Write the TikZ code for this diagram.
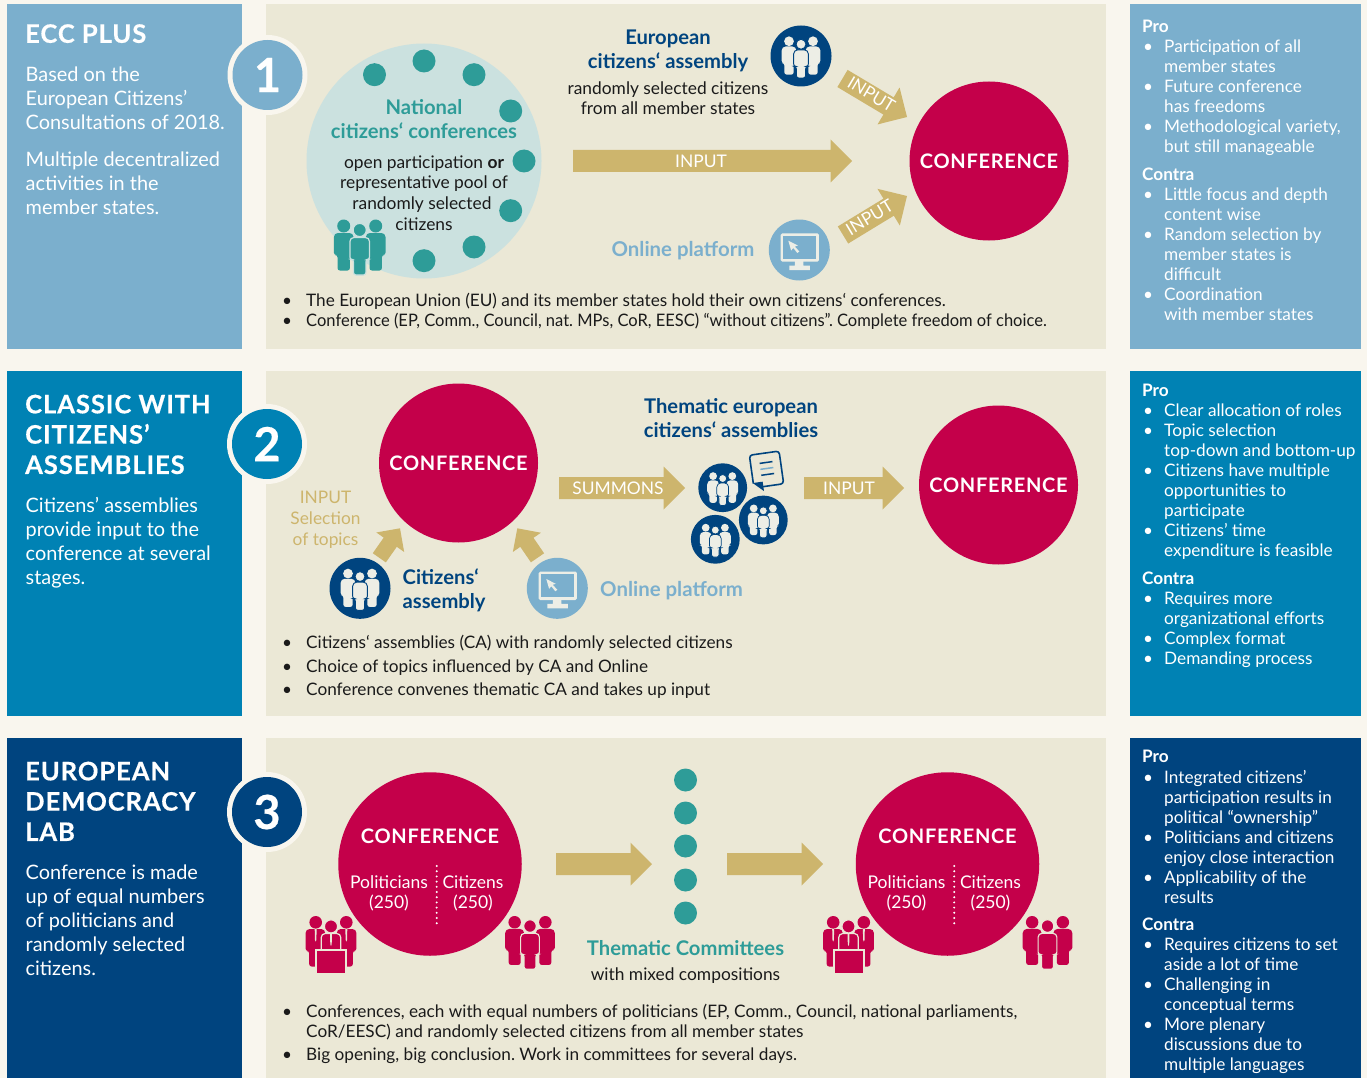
\documentclass[tikz,border=0pt]{standalone}
\usepackage{fontspec}
\usetikzlibrary{calc}
\setmainfont{Lato}
\newfontfamily\titlef[LetterSpace=3.8,FakeBold=0.5]{Lato Bold}
\newfontfamily\conff[LetterSpace=3.5]{Lato Bold}
\newfontfamily\numf[FakeBold=0.4]{Lato Bold}
\frenchspacing
\definecolor{page}{HTML}{F9F6EE}
\definecolor{beige}{HTML}{EBE8D6}
\definecolor{skyb}{HTML}{7BAFCD}
\definecolor{midb}{HTML}{0082B4}
\definecolor{navy}{HTML}{00447F}
\definecolor{crim}{HTML}{C4004A}
\definecolor{gold}{HTML}{CDB56D}
\definecolor{teal2}{HTML}{2E9C98}
\definecolor{lteal}{HTML}{CBE1DF}
\definecolor{ink}{HTML}{1A1A1A}
\definecolor{pale}{HTML}{EDEEE6}
\newcommand{\fs}[2]{\fontsize{#1}{#2}\selectfont}
\tikzset{
  titletxt/.style={text=white,anchor=north west,align=left,inner sep=0pt,font=\fs{25.5}{30.3}\titlef},
  leadtxt/.style={text=white,anchor=north west,align=left,inner sep=0pt,font=\fs{19.9}{24}},
  listtxt/.style={text=white,anchor=north west,align=left,inner sep=0pt,font=\fs{17.2}{20}},
  bodytxt/.style={text=ink,anchor=north west,align=left,inner sep=0pt,font=\fs{17.2}{20}},
  mid/.style={text=ink,align=center,inner sep=0pt,font=\fs{17.35}{20.6}},
  head/.style={align=center,inner sep=0pt,font=\fs{20.2}{24}\bfseries},
  onl/.style={inner sep=0pt,font=\fs{20.4}{24}\bfseries,text=skyb},
  conf/.style={circle,fill=crim,text=white,inner sep=0pt,minimum size=159pt,font=\fs{20}{24}\conff},
  confb/.style={conf,minimum size=183.5pt},
  dot/.style={circle,fill=teal2,inner sep=0pt,minimum size=23pt},
  numring/.style={circle,fill=page,inner sep=0pt,minimum size=80pt},
  num/.style={circle,inner sep=0pt,minimum size=70pt,text=white,font=\fs{47}{47}\numf},
  ico/.style={circle,inner sep=0pt,minimum size=61pt},
  arrowlab/.style={text=white,inner sep=0pt,font=\fs{17.4}{20}},
  blockfill/.style={fill=gold,draw=none},
}
% \blockarrow{half shaft}{half head}{tail}{tip}
\newcommand{\blockarrow}[4]{%
  \path coordinate (ba) at ($(#4)!#2!(#3)$);
  \path[blockfill] ($(#3)!#1!90:(#4)$) -- ($(ba)!#1!90:(#4)$) -- ($(ba)!#2!90:(#4)$) -- (#4)
    -- ($(ba)!#2!-90:(#4)$) -- ($(ba)!#1!-90:(#4)$) -- ($(#3)!#1!-90:(#4)$) -- cycle;
}
\newcommand{\bodyshape}[3]{% x, y top, options
  \path[#3,rounded corners=4pt] (#1-9.8,#2) -- (#1+9.8,#2) [rounded corners=2.4pt] -- (#1+9.8,#2+22) -- (#1+6.2,#2+22)
    -- (#1+6.2,#2+37.5) -- (#1-6.2,#2+37.5) -- (#1-6.2,#2+22) -- (#1-9.8,#2+22) [rounded corners=4pt] -- cycle;
}
\newcommand{\people}[4]{\begin{scope}[shift={(#1,#2)},scale=#3]
  \fill[#4] (-16,-21) circle (6.5) (16,-21) circle (6.5);
  \bodyshape{-16}{-14}{fill=#4}
  \bodyshape{16}{-14}{fill=#4}
  \fill[#4,draw=\peoplebg,line width=#3*1.2pt] (0,-17) circle (6.6);
  \bodyshape{0}{-9.5}{fill=#4,draw=\peoplebg,line width=#3*1.2pt}
\end{scope}}
\newcommand{\peoplebg}{beige}
\newcommand{\peoplecirc}[4]{% name x y scale: navy circle with pale people
  \node[ico,fill=navy,minimum size=#4*61pt/0.75] (#1) at (#2,#3) {};
  \renewcommand{\peoplebg}{navy}%
  \people{#2}{#3+1}{#4}{pale}%
}
\newcommand{\screen}[3]{% name x y
  \node[ico,fill=skyb] (#1) at (#2,#3) {};
  \begin{scope}[shift={(#2,#3)}]
    \fill[pale,rounded corners=1.5pt] (-18.6,-16.7) rectangle (19.6,11.7);
    \fill[skyb] (-16,-14) rectangle (17,8.8);
    \fill[pale] (-4.5,11) rectangle (4,16) (-10,15.5) rectangle (10.5,20);
    \fill[pale] (-11,-9.3) -- (-1.5,-4.5) -- (-4.5,-3.5) -- (0,1.5) -- (-2,3) -- (-6,-2) -- (-8.2,0.5) -- cycle;
  \end{scope}
}
\newcommand{\politicians}[2]{\begin{scope}[shift={(#1,#2)}]
  \fill[crim] (-15.3,-18.7) circle (6.3) (15.3,-18.7) circle (6.3);
  \bodyshape{-15.6}{-12}{fill=crim}
  \bodyshape{15.6}{-12}{fill=crim}
  \fill[crim,draw=beige,line width=1.2pt] (0,-14.6) circle (6.6);
  \bodyshape{0}{-7.5}{fill=crim,draw=beige,line width=1.2pt}
  \fill[beige] (-16.3,-12) -- (-14.3,-12) -- (-14.7,-1) -- (-15.3,0.5) -- (-16,-1) -- cycle;
  \fill[beige] (14.3,-12) -- (16.3,-12) -- (16,-1) -- (15.3,0.5) -- (14.7,-1) -- cycle;
  \fill[beige] (-1,-7.5) -- (1,-7.5) -- (0.7,3) -- (0,5) -- (-0.7,3) -- cycle;
  \path[fill=crim,draw=beige,line width=2pt] (-15,9) rectangle (15,33);
\end{scope}}
\begin{document}
\begin{tikzpicture}[x=1pt,y=-1pt]
\useasboundingbox (0,0) rectangle (1367,1078);
\fill[page] (0,0) rectangle (1367,1078);
% panels
\fill[skyb] (7,4) rectangle (242,349);
\fill[midb] (7,371) rectangle (242,716);
\fill[navy] (7,738) rectangle (242,1078);
\fill[beige] (266,4) rectangle (1106,349);
\fill[beige] (266,371) rectangle (1106,716);
\fill[beige] (266,738) rectangle (1106,1078);
\fill[skyb] (1130,4) rectangle (1361,349);
\fill[midb] (1130,371) rectangle (1361,716);
\fill[navy] (1130,738) rectangle (1361,1078);
% numbers
\node[numring] (r1) at (267.5,75) {};
\node[num,fill=skyb] (n1) at (267.5,75) {1};
\node[numring] (r2) at (267,444) {};
\node[num,fill=midb] (n2) at (267,444) {2};
\node[numring] (r3) at (267,812) {};
\node[num,fill=navy] (n3) at (267,812) {3};
% left texts
\node[titletxt] (t1) at (25,24) {ECC PLUS};
\node[leadtxt] (l1) at (25.5,67) {Based on the\\European Citizens’\\Consultations of 2018.};
\node[leadtxt] (l1b) at (25.5,152) {Multiple decentralized\\activities in the\\member states.};
\node[titletxt] (t2) at (25,394.5) {CLASSIC WITH\\CITIZENS’\\ASSEMBLIES};
\node[leadtxt] (l2) at (25.5,497) {Citizens’ assemblies\\provide input to the\\conference at several\\stages.};
\node[titletxt] (t3) at (25,761.5) {EUROPEAN\\DEMOCRACY\\LAB};
\node[leadtxt] (l3) at (25.5,865) {Conference is made\\up of equal numbers\\of politicians and\\randomly selected\\citizens.};
% right texts
\newcommand{\bl}{\llap{\textbullet\hspace{11pt}}}
\node[listtxt] (p1) at (1142,20) {\textbf{Pro}};
\node[listtxt] (p1l) at (1164,40) {\bl Participation of all\\member states\\\bl Future conference\\has freedoms\\\bl Methodological variety,\\but still manageable};
\node[listtxt] (c1) at (1142,168) {\textbf{Contra}};
\node[listtxt] (c1l) at (1164,188) {\bl Little focus and depth\\content wise\\\bl Random selection by\\member states is\\difficult\\\bl Coordination\\with member states};
\node[listtxt] (p2) at (1142,384) {\textbf{Pro}};
\node[listtxt] (p2l) at (1164,404) {\bl Clear allocation of roles\\\bl Topic selection\\top-down and bottom-up\\\bl Citizens have multiple\\opportunities to\\participate\\\bl Citizens’ time\\expenditure is feasible};
\node[listtxt] (c2) at (1142,572) {\textbf{Contra}};
\node[listtxt] (c2l) at (1164,592) {\bl Requires more\\organizational efforts\\\bl Complex format\\\bl Demanding process};
\node[listtxt] (p3) at (1142,750) {\textbf{Pro}};
\node[listtxt] (p3l) at (1164,770) {\bl Integrated citizens’\\participation results in\\political “ownership”\\\bl Politicians and citizens\\enjoy close interaction\\\bl Applicability of the\\results};
\node[listtxt] (c3) at (1142,918) {\textbf{Contra}};
\node[listtxt] (c3l) at (1164,938) {\bl Requires citizens to set\\aside a lot of time\\\bl Challenging in\\conceptual terms\\\bl More plenary\\discussions due to\\multiple languages};
% bottom lists
\newcommand{\bm}{\llap{\textbullet\hspace{14pt}}}
\node[bodytxt] (b1) at (306,293) {\bm The European Union (EU) and its member states hold their own citizens‘ conferences.\\\bm \scalebox{0.96}[1]{Conference (EP, Comm., Council, nat. MPs, CoR, EESC) “without citizens”. Complete freedom of choice.}};
\node[bodytxt,font=\fs{17.2}{23.5}] (b2) at (306,635) {\bm Citizens‘ assemblies (CA) with randomly selected citizens\\\bm Choice of topics influenced by CA and Online\\\bm Conference convenes thematic CA and takes up input};
\node[bodytxt] (b3) at (306,1004) {\bm Conferences, each with equal numbers of politicians (EP, Comm., Council, national parliaments,\\CoR/EESC) and randomly selected citizens from all member states};
\node[bodytxt] (b3b) at (306,1048) {\bm Big opening, big conclusion. Work in committees for several days.};
% ===== row 1
\node[circle,fill=lteal,inner sep=0pt,minimum size=235pt] (natl) at (424,161) {};
\foreach \nm/\xx/\yy in {a/374.5/74.7,b/424/61,c/474/74.7,d/510.7/111,e/524/161,f/510.7/210.7,g/474/247,h/424/260.7}
  \node[dot] (dot\nm) at (\xx,\yy) {};
\node[head,text=teal2] (natlh) at (424,119) {National\\citizens‘ conferences};
\node[mid] (natlb) at (424,193) {open participation \textbf{or}\\representative pool of\\\hspace*{-4pt}randomly selected\\citizens};
\renewcommand{\peoplebg}{lteal}
\people{359.7}{247}{1}{teal2}
\node[head,text=navy] (eah) at (668,51) {European\\citizens‘ assembly};
\node[mid,font=\fs{17.35}{20}] (eab) at (668,98) {randomly selected citizens\\from all member states};
\peoplecirc{eaico}{801}{56}{0.75}
\node[onl] (oph) at (683,251) {Online platform};
\screen{opico}{799.3}{250}
\node[conf] (conf1) at (989,161) {\raisebox{-0.5pt}{CONFERENCE}};
\coordinate (a1t) at (573,161); \coordinate (a1h) at (852,161);
\blockarrow{11pt}{21.5pt}{a1t}{a1h}
\node[arrowlab] (a1l) at (701,161) {INPUT};
\coordinate (a2t) at (842.5,78.5); \coordinate (a2h) at (907,117);
\blockarrow{10pt}{21.5pt}{a2t}{a2h}
\node[arrowlab,rotate=-31] (a2l) at (871.5,94.5) {INPUT};
\coordinate (a3t) at (843,235); \coordinate (a3h) at (907,196);
\blockarrow{10pt}{21.5pt}{a3t}{a3h}
\node[arrowlab,rotate=31] (a3l) at (869.5,217.5) {INPUT};
% ===== row 2
\node[conf] (conf2) at (458.5,463) {\raisebox{-0.5pt}{CONFERENCE}};
\node[conf] (conf3) at (998.5,485) {\raisebox{-0.5pt}{CONFERENCE}};
\node[align=center,inner sep=0pt,text=gold,font=\fs{17.3}{21}] (sel) at (325.5,519.5) {INPUT\\Selection\\of topics};
\coordinate (b1t) at (379.3,557.8); \coordinate (b1h) at (400,528.3);
\blockarrow{8pt}{17pt}{b1t}{b1h}
\coordinate (b2t) at (537.5,557.8); \coordinate (b2h) at (517.3,528.3);
\blockarrow{8pt}{17pt}{b2t}{b2h}
\peoplecirc{caico}{360}{588.3}{0.75}
\node[head,text=navy,align=left,anchor=west] (cah) at (402.5,590) {Citizens‘\\assembly};
\screen{op2ico}{557.3}{588.3}
\node[onl,anchor=west] (op2h) at (600,591) {Online platform};
\coordinate (b3t) at (559,488); \coordinate (b3h) at (685,488);
\blockarrow{11pt}{21.5pt}{b3t}{b3h}
\node[arrowlab] (b3l) at (618,488) {SUMMONS};
\coordinate (b4t) at (804,488); \coordinate (b4h) at (904,488);
\blockarrow{11pt}{21.5pt}{b4t}{b4h}
\node[arrowlab] (b4l) at (849,488) {INPUT};
\node[head,text=navy] (tah) at (731,418) {Thematic european\\citizens‘ assemblies};
\peoplecirc{ta1}{722.7}{487.7}{0.6}
\peoplecirc{ta2}{763.3}{520}{0.6}
\peoplecirc{ta3}{715.3}{539.3}{0.6}
% document
\begin{scope}[shift={(766.5,469.5)},rotate=8]
  \path[draw=navy,line width=1.6pt,rounded corners=3pt] (-6,16.5) -- (15,16.5) -- (15,-16.5) -- (-15,-16.5) -- (-15,12);
  \fill[navy] (-15.5,11.5) -- (-5.5,11.5) -- (-5.5,21) -- cycle;
  \draw[navy,line width=1.5pt] (-6,-7) -- (7,-7) (-6,5) -- (7,5);
  \draw[skyb,line width=1.5pt] (-6,-1) -- (7,-1);
\end{scope}
% ===== row 3
\node[confb] (conf4) at (430,864) {};
\node[confb] (conf5) at (947.5,864) {};
\foreach \cx/\nm in {430/l,947.5/r}{
  \node[text=white,inner sep=0pt,font=\fs{20}{24}\conff] (cn\nm) at (\cx,836) {CONFERENCE};
  \node[text=white,align=center,inner sep=0pt,font=\fs{17.5}{20}] (po\nm) at (\cx-41,893) {Politicians\\(250)};
  \node[text=white,align=center,inner sep=0pt,font=\fs{17.5}{20}] (ci\nm) at (\cx+43,893) {Citizens\\(250)};
  \coordinate (ds\nm) at (\cx+6.7,866); \coordinate (de\nm) at (\cx+6.7,923.3);
  \draw[white,line width=2.2pt,line cap=round,dash pattern=on 0pt off 5.2pt] (ds\nm) -- (de\nm);
}
\politicians{331}{941}
\politicians{848.5}{941}
\renewcommand{\peoplebg}{beige}
\people{530}{942.4}{0.96}{crim}
\people{1047.5}{942.4}{0.96}{crim}
\foreach \yy [count=\i] in {780,813,846,880,913}
  \node[dot] (td\i) at (685.5,\yy) {};
\node[head,text=teal2] (tch) at (685.5,948) {Thematic Committees};
\node[mid] (tcb) at (685.5,976) {with mixed compositions};
\coordinate (c1t) at (556,864); \coordinate (c1h) at (652,864);
\blockarrow{11pt}{21.5pt}{c1t}{c1h}
\coordinate (c2t) at (727,864); \coordinate (c2h) at (823,864);
\blockarrow{11pt}{21.5pt}{c2t}{c2h}
\end{tikzpicture}
\end{document}
